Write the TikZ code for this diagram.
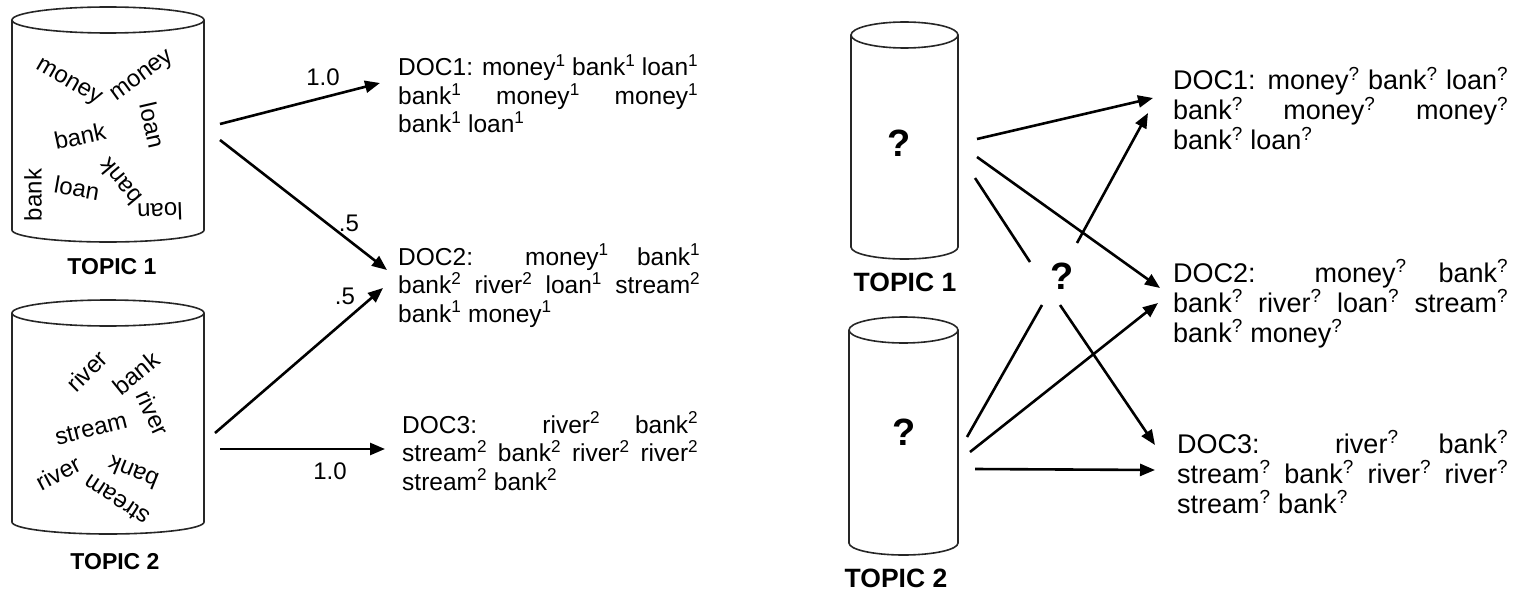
\documentclass[tikz,border=0pt]{standalone}
\usepackage{fontspec}
\setmainfont{Liberation Sans}
\usetikzlibrary{arrows.meta}

\newcommand{\tp}[1]{\textsuperscript{#1}}
\newcommand{\drawjar}[4]{%
  \draw[jar] (#1,#3) -- (#1,#4) arc[start angle=180,end angle=360,x radius={(#2-#1)/2},y radius=12] -- (#2,#3);
  \draw[jar] ({(#1+#2)/2},#3) ellipse[x radius={(#2-#1)/2},y radius=13];
}

\tikzset{
  jar/.style={line width=1.6pt, black!85},
  arr/.style={line width=2.6pt, -{Triangle[length=15pt,width=12pt]}},
  ln/.style={line width=2.6pt},
  word/.style={inner sep=0pt, font=\fontsize{24}{28}\selectfont},
  topic/.style={inner sep=0pt, font=\bfseries\fontsize{23}{27}\selectfont},
  bigtopic/.style={inner sep=0pt, font=\bfseries\fontsize{26.5}{30}\selectfont},
  qmark/.style={inner sep=0pt, font=\bfseries\fontsize{38}{40}\selectfont},
  doc/.style={anchor=base west, inner sep=0pt, align=justify, font=\fontsize{24.5}{28.5}\selectfont},
  bigdoc/.style={anchor=base west, inner sep=0pt, align=justify, font=\fontsize{27}{30}\selectfont},
  wt/.style={inner sep=0pt, font=\fontsize{24}{28}\selectfont}
}

\begin{document}
\begin{tikzpicture}[x=1pt,y=1pt]
\useasboundingbox (0,0) rectangle (1517,-591);

% left: known topics
\drawjar{12}{204}{-20}{-230}
\drawjar{12}{204}{-313}{-522}
\node[topic] (t1) at (112,-267) {TOPIC 1};
\node[topic] (t2) at (115,-562) {TOPIC 2};

\node[word, rotate=-30] (m1) at (68,-83) {money};
\node[word, rotate=36] (m2) at (143,-77) {money};
\node[word, rotate=-77] (l1) at (153,-125) {loan};
\node[word, rotate=12] (b1) at (80,-136) {bank};
\node[word, rotate=90] (b2) at (33,-195) {bank};
\node[word, rotate=-10] (l2) at (77,-188) {loan};
\node[word, rotate=130] (b3) at (120,-182) {bank};
\node[word, rotate=182] (l3) at (160,-212) {loan};

\node[word, rotate=45] (r1) at (87,-371) {river};
\node[word, rotate=39] (b4) at (136,-373) {bank};
\node[word, rotate=-65] (r2) at (153,-413) {river};
\node[word, rotate=14] (s1) at (91,-429) {stream};
\node[word, rotate=28] (r3) at (58,-473) {river};
\node[word, rotate=158] (b5) at (133,-473) {bank};
\node[word, rotate=147] (s2) at (117,-500) {stream};

\node[doc, text width=300pt] (d1) at (398,-76) {DOC1: money\tp1 bank\tp1 loan\tp1\linebreak bank\tp1 money\tp1 money\tp1\linebreak bank\tp1 loan\tp1};
\node[doc, text width=302pt] (d2) at (398,-265) {DOC2: money\tp1 bank\tp1\linebreak bank\tp2 river\tp2 loan\tp1 stream\tp2\linebreak bank\tp1 money\tp1};
\node[doc, text width=296pt] (d3) at (402,-433) {DOC3: river\tp2 bank\tp2\linebreak stream\tp2 bank\tp2 river\tp2 river\tp2\linebreak stream\tp2 bank\tp2};

\coordinate (a1) at (220,-124);
\coordinate (a2) at (220,-140);
\coordinate (a3) at (215,-433);
\coordinate (a4) at (220,-449);
\coordinate (e1) at (380,-83);
\coordinate (e2) at (387,-270);
\coordinate (e3) at (383,-288);
\coordinate (e4) at (385,-449);
\draw[arr] (a1) -- (e1);
\draw[arr] (a2) -- (e2);
\draw[arr] (a3) -- (e3);
\draw[arr] (a4) -- (e4);
\node[wt] (w1) at (323,-77) {1.0};
\node[wt] (w2) at (349,-223) {.5};
\node[wt] (w3) at (345,-296) {.5};
\node[wt] (w4) at (330,-471) {1.0};

% right: unknown topics
\drawjar{851}{958}{-35}{-247}
\drawjar{849}{958}{-330}{-543}
\node[bigtopic] (u1) at (905,-282) {TOPIC 1};
\node[bigtopic] (u2) at (896,-578) {TOPIC 2};
\node[qmark] (q1) at (899,-143) {?};
\node[qmark] (q2) at (904,-432) {?};
\node[qmark] (q) at (1062,-276) {?};

\node[bigdoc, text width=335pt] (f1) at (1173,-90) {DOC1: money\tp? bank\tp? loan\tp?\linebreak bank\tp? money\tp? money\tp?\linebreak bank\tp? loan\tp?};
\node[bigdoc, text width=335pt] (f2) at (1173,-282) {DOC2: money\tp? bank\tp?\linebreak bank\tp? river\tp? loan\tp? stream\tp?\linebreak bank\tp? money\tp?};
\node[bigdoc, text width=331pt] (f3) at (1177,-453) {DOC3: river\tp? bank\tp?\linebreak stream\tp? bank\tp? river\tp? river\tp?\linebreak stream\tp? bank\tp?};

\coordinate (s1) at (977,-139);
\coordinate (s2) at (977,-157);
\coordinate (s3) at (975,-178);
\coordinate (s4) at (967,-437);
\coordinate (s5) at (970,-452);
\coordinate (s6) at (975,-469);
\coordinate (qa) at (1030,-262);
\coordinate (qb) at (1077,-243);
\coordinate (qc) at (1042,-305);
\coordinate (qd) at (1060,-305);
\coordinate (g1) at (1153,-98);
\coordinate (g2) at (1148,-113);
\coordinate (g3) at (1160,-288);
\coordinate (g4) at (1158,-303);
\coordinate (g5) at (1155,-445);
\coordinate (g6) at (1155,-470);
\draw[arr] (s1) -- (g1);
\draw[arr] (s2) -- (g3);
\draw[ln] (s3) -- (qa);
\draw[arr] (qb) -- (g2);
\draw[ln] (s4) -- (qc);
\draw[arr] (qd) -- (g5);
\draw[arr] (s5) -- (g4);
\draw[arr] (s6) -- (g6);
\end{tikzpicture}
\end{document}
